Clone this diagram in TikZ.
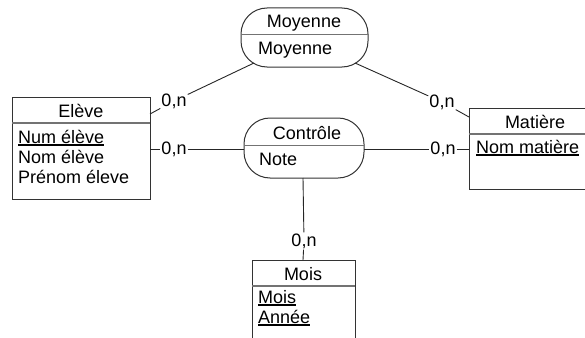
\documentclass[tikz,border=0pt]{standalone}
\usepackage{fontspec}
\setmainfont{Liberation Sans}
\newcommand\myul[1]{\setbox0\hbox{#1}\rlap{\rule[-3pt]{\wd0}{1.6pt}}\box0}
\tikzset{
  ent/.style={draw=black!80, line width=1pt, anchor=north west, inner sep=0pt, outer sep=0pt},
  rel/.style={ent, rounded corners=26pt},
  divider/.style={draw=black!55, line width=1.3pt},
  conn/.style={draw=black!85, line width=0.9pt},
  card/.style={inner sep=1pt, font=\fontsize{18}{20}\selectfont},
  ttl/.style={anchor=base, inner sep=0pt, font=\fontsize{18}{20}\selectfont},
  attr/.style={anchor=base west, inner sep=0pt, font=\fontsize{18}{20}\selectfont},
}
\begin{document}
\begin{tikzpicture}[x=1pt,y=-1pt]
\useasboundingbox (0,0) rectangle (585,337);
\clip (0,0) rectangle (585,337);
% entities
\node[ent, minimum width=138pt, minimum height=102pt] (eleve) at (12,97) {};
\node[ent, minimum width=132pt, minimum height=81pt] (mat) at (469,108) {};
\node[ent, minimum width=103pt, minimum height=100pt] (mois) at (252,260) {};
% relationships
\node[rel, minimum width=127pt, minimum height=59pt] (moy) at (241,8) {};
\node[rel, minimum width=120pt, minimum height=60pt] (contr) at (244,118) {};
% dividers
\draw[divider] (12,123) -- (150,123);
\draw[divider] (469,134) -- (601,134);
\draw[divider] (252,286) -- (355,286);
\draw[divider] (241,34.5) -- (368,34.5);
\draw[divider] (244,145.5) -- (364,145.5);
% titles
\node[ttl] (televe) at (81,117) {Elève};
\node[ttl] (tmat) at (535,128) {Matière};
\node[ttl] (tmois) at (303,280) {Mois};
\node[ttl] (tmoy) at (304,28) {Moyenne};
\node[ttl] (tcontr) at (307,139) {Contrôle};
% attributes
\node[attr] (a1) at (18,143) {\myul{Num élève}};
\node[attr] (a2) at (18,163) {Nom élève};
\node[attr] (a3) at (18,183) {Prénom éleve};
\node[attr] (a4) at (476,153) {\myul{Nom matière}};
\node[attr] (a5) at (258,303) {\myul{Mois}};
\node[attr] (a6) at (258,323) {\myul{Année}};
\node[attr] (a7) at (258,55) {Moyenne};
\node[attr] (a8) at (259,165) {Note};
% cardinalities
\node[card] (c1) at (174,101) {0,n};
\node[card] (c2) at (174,149) {0,n};
\node[card] (c3) at (442,102) {0,n};
\node[card] (c4) at (443,149) {0,n};
\node[card] (c5) at (304,241) {0,n};
% connectors
\coordinate (e1) at ([yshift=-17pt]eleve.north east);
\coordinate (m1) at ([xshift=13pt,yshift=4pt]moy.south west);
\coordinate (m2) at ([xshift=-13pt,yshift=4pt]moy.south east);
\coordinate (t1) at ([yshift=-9pt]mat.north west);
\draw[conn] (e1) -- (c1) -- (m1);
\draw[conn] (m2) -- (c3) -- (t1);
\draw[conn] (eleve.east |- c2) -- (c2) -- (contr.west |- c2);
\draw[conn] (contr.east |- c4) -- (c4) -- (mat.west |- c4);
\draw[conn] (contr.south -| 303,0) -- (c5) -- (mois.north -| 303,0);
\end{tikzpicture}
\end{document}
